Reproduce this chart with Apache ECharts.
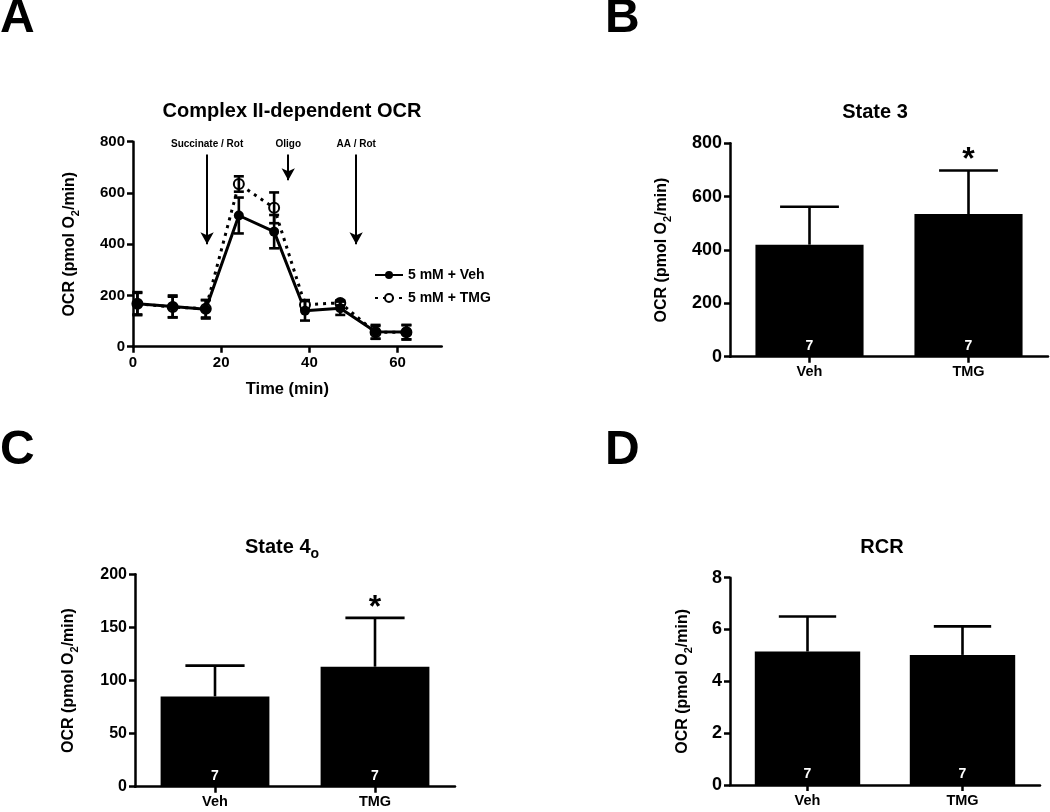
<!DOCTYPE html>
<html><head><meta charset="utf-8">
<script src="https://cdn.jsdelivr.net/npm/echarts@6/dist/echarts.min.js"></script>
<style>html,body{margin:0;padding:0;background:#fff}#c{width:1050px;height:812px}</style>
</head><body><div id="c"></div>
<script>
// ---- Panel A data ----
const timeMin = [1, 9, 16.5, 24, 32, 39, 47, 55, 62];
const vehMean = [168, 157, 146, 512, 449, 140, 150, 58, 57];
const vehErr  = [45, 43, 36, 70, 65, 38, 26, 27, 28];
const tmgMean = [168, 155, 148, 635, 542, 164, 171, 56, 56];
const tmgErr  = [42, 40, 34, 30, 60, 18, 10, 25, 28];
const arrowTimes  = [16.8, 35.2, 50.6];
const arrowLabels = ['Succinate / Rot', 'Oligo', 'AA / Rot'];
const arrowFrom   = [750, 750, 750];
const arrowTo     = [400, 650, 400];
const seriesNames = ['5 mM + Veh', '5 mM + TMG'];
const timeTicks = [0, 20, 40, 60];
// ---- Bar panels ----
const groups = ['Veh', 'TMG'];
const nCount = [7, 7];
const state3Mean = [420, 535];
const state3Err  = [142, 163];
const state3Sig  = ['', '*'];
const state4Mean = [85, 113];
const state4Err  = [29, 46];
const state4Sig  = ['', '*'];
const rcrMean = [5.15, 5.02];
const rcrErr  = [1.35, 1.1];
const rcrSig  = ['', ''];

const FF = '"Liberation Sans", Arial, sans-serif';
const chart = echarts.init(document.getElementById('c'), null, {renderer: 'canvas'});

const ocrName = '{a|OCR (pmol O}{s|2}{a|/min)}';
const ocrRich = {
  a: {fontSize: 16, fontWeight: 'bold', fontFamily: FF, color: '#000'},
  s: {fontSize: 11, fontWeight: 'bold', fontFamily: FF, color: '#000', verticalAlign: 'top', padding: [11, 0, 0, 0]}
};
const AX = {lineStyle: {color: '#000', width: 2.5}};

function yAxis(gi, min, max, interval, fs, gap) {
  return {
    type: 'value', gridIndex: gi, min: min, max: max, interval: interval,
    axisLine: {show: true, ...AX}, axisTick: {show: true, length: 6, ...AX},
    splitLine: {show: false},
    axisLabel: {color: '#000', fontWeight: 'bold', fontSize: fs, fontFamily: FF, margin: 8},
    name: ocrName, nameLocation: 'middle', nameGap: gap,
    nameTextStyle: {rich: ocrRich}
  };
}
function catAxis(gi) {
  return {
    type: 'category', gridIndex: gi, data: groups,
    axisLine: {show: true, ...AX}, axisTick: {show: true, alignWithLabel: true, length: 6, ...AX},
    axisLabel: {color: '#000', fontWeight: 'bold', fontSize: 14.5, fontFamily: FF, margin: 8}
  };
}
function errRender(both, capPx, capFrac, sig) {
  return function (params, api) {
    const x = api.value(0), m = api.value(1), e = api.value(2);
    const c = api.coord([x, m]);
    const t = api.coord([x, m + e]);
    const b = api.coord([x, m - e]);
    const half = capFrac ? api.size([1, 0])[0] * capFrac : capPx;
    const st = {stroke: '#000', lineWidth: 2.6};
    const ch = [
      {type: 'line', shape: {x1: t[0], y1: t[1], x2: t[0], y2: both ? b[1] : c[1]}, style: st},
      {type: 'line', shape: {x1: t[0] - half, y1: t[1], x2: t[0] + half, y2: t[1]}, style: st}
    ];
    if (both) ch.push({type: 'line', shape: {x1: b[0] - half, y1: b[1], x2: b[0] + half, y2: b[1]}, style: st});
    if (sig && sig[params.dataIndex]) {
      ch.push({type: 'text', style: {text: sig[params.dataIndex], x: t[0], y: t[1] + 6, align: 'center', verticalAlign: 'bottom', font: 'bold 32px ' + FF, fill: '#000'}});
    }
    return {type: 'group', children: ch};
  };
}
function barSeries(gi, mean) {
  return {
    type: 'bar', xAxisIndex: gi, yAxisIndex: gi, data: mean, barWidth: '68%',
    itemStyle: {color: '#000'},
    label: {show: true, position: 'insideBottom', distance: 4, color: '#fff', fontWeight: 'bold', fontSize: 14, fontFamily: FF,
      formatter: p => String(nCount[p.dataIndex])}
  };
}
function errSeries(gi, mean, err, sig) {
  return {
    type: 'custom', xAxisIndex: gi, yAxisIndex: gi, z: 5,
    data: mean.map((v, i) => [i, v, err[i]]),
    renderItem: errRender(false, 0, 0.185, sig)
  };
}
const titleStyle = {fontSize: 20, fontWeight: 'bold', color: '#000', fontFamily: FF};

const option = {
  animation: false,
  textStyle: {fontFamily: FF},
  title: [
    {text: 'Complex II-dependent OCR', left: 287, top: 96, textAlign: 'center', textStyle: titleStyle},
    {text: 'State 3', left: 870, top: 97, textAlign: 'center', textStyle: titleStyle},
    {text: 'State 4{s|o}', left: 277, top: 528, textAlign: 'center', textStyle: {...titleStyle,
      rich: {s: {fontSize: 14, fontWeight: 'bold', fontFamily: FF, color: '#000', verticalAlign: 'top', padding: [14, 0, 0, 0]}}}},
    {text: 'RCR', left: 877, top: 532, textAlign: 'center', textStyle: titleStyle}
  ],
  graphic: [
    {type: 'text', left: 0, top: -5, style: {text: 'A', font: 'bold 48px ' + FF, fill: '#000'}},
    {type: 'text', left: 605, top: -5, style: {text: 'B', font: 'bold 48px ' + FF, fill: '#000'}},
    {type: 'text', left: 0, top: 427, style: {text: 'C', font: 'bold 48px ' + FF, fill: '#000'}},
    {type: 'text', left: 605, top: 427, style: {text: 'D', font: 'bold 48px ' + FF, fill: '#000'}}
  ],
  legend: {
    orient: 'vertical', left: 369, top: 263, itemWidth: 28, itemHeight: 10, itemGap: 9,
    data: seriesNames,
    textStyle: {fontSize: 14, fontWeight: 'bold', color: '#000', fontFamily: FF}
  },
  grid: [
    {left: 133, top: 141.7, width: 308.7, height: 205},
    {left: 730, top: 143.3, width: 318, height: 213.4},
    {left: 135, top: 574.3, width: 320, height: 212.4},
    {left: 730, top: 577.7, width: 310, height: 207.3}
  ],
  xAxis: [
    {type: 'value', gridIndex: 0, min: 0, max: 70,
      axisLine: {show: true, onZero: false, ...AX},
      axisTick: {show: true, length: 6, customValues: timeTicks, ...AX},
      axisLabel: {color: '#000', fontWeight: 'bold', fontSize: 15, fontFamily: FF, margin: 9, customValues: timeTicks},
      splitLine: {show: false},
      name: 'Time (min)', nameLocation: 'middle', nameGap: 34,
      nameTextStyle: {fontSize: 16.5, fontWeight: 'bold', color: '#000', fontFamily: FF}},
    catAxis(1), catAxis(2), catAxis(3)
  ],
  yAxis: [
    yAxis(0, 0, 800, 200, 15, 52),
    yAxis(1, 0, 800, 200, 18, 57),
    yAxis(2, 0, 200, 50, 16, 55),
    yAxis(3, 0, 8, 2, 18, 36)
  ],
  series: [
    {name: seriesNames[1], type: 'line', xAxisIndex: 0, yAxisIndex: 0,
      data: timeMin.map((t, i) => [t, tmgMean[i]]),
      symbol: 'emptyCircle', symbolSize: 10,
      lineStyle: {color: '#000', width: 3, type: [3, 5]},
      itemStyle: {color: '#000', borderColor: '#000', borderWidth: 2}},
    {name: seriesNames[0], type: 'line', xAxisIndex: 0, yAxisIndex: 0,
      data: timeMin.map((t, i) => [t, vehMean[i]]),
      symbol: 'circle', symbolSize: 10,
      lineStyle: {color: '#000', width: 3},
      itemStyle: {color: '#000'},
      markLine: {
        silent: true, symbol: ['none', 'arrow'], symbolSize: [10, 12],
        lineStyle: {color: '#000', width: 2, type: 'solid'},
        label: {show: true, position: 'start', distance: 5, formatter: '{b}', color: '#000', fontWeight: 'bold', fontSize: 10, fontFamily: FF},
        data: arrowTimes.map((t, i) => [
          {name: arrowLabels[i], coord: [t, arrowFrom[i]]},
          {coord: [t, arrowTo[i]]}
        ])
      }},
    {type: 'custom', xAxisIndex: 0, yAxisIndex: 0, z: 5,
      data: timeMin.map((t, i) => [t, vehMean[i], vehErr[i]]), renderItem: errRender(true, 5, 0, null)},
    {type: 'custom', xAxisIndex: 0, yAxisIndex: 0, z: 5,
      data: timeMin.map((t, i) => [t, tmgMean[i], tmgErr[i]]), renderItem: errRender(true, 5, 0, null)},
    barSeries(1, state3Mean), errSeries(1, state3Mean, state3Err, state3Sig),
    barSeries(2, state4Mean), errSeries(2, state4Mean, state4Err, state4Sig),
    barSeries(3, rcrMean), errSeries(3, rcrMean, rcrErr, rcrSig)
  ]
};
chart.setOption(option);
</script>
</body></html>
